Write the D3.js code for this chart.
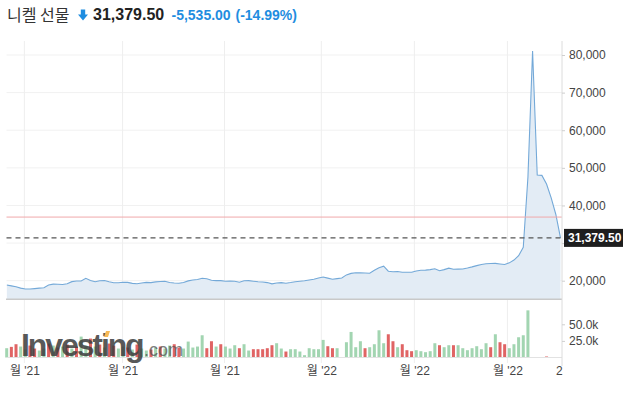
<!DOCTYPE html>
<html>
<head>
<meta charset="utf-8">
<script src="https://cdn.jsdelivr.net/npm/d3@7"></script>
<style>
	body { margin: 0; background: #fff; }
	svg text { font-family: "Liberation Sans", Arial, "Noto Sans CJK KR", sans-serif; }
</style>
</head>
<body>
<div id="chart"></div>
<script>
(function() {

	// closing prices, one per slot
	var price_values = [
		18860, 18630, 18370, 18030, 17790, 17790, 17900, 18030, 18120, 18850,
		19090, 19050, 18980, 19200, 19750, 19920, 19920, 20640, 20070, 19710,
		19980, 20040, 19700, 19470, 19470, 19600, 19550, 19300, 19200, 19380,
		19560, 19480, 19680, 19780, 19840, 19500, 19370, 19340, 19540, 19950,
		20170, 20320, 20640, 20530, 20110, 20020, 20010, 19840, 19890, 19850,
		19600, 20000, 20030, 19870, 19720, 19660, 19500, 19150, 19400, 19480,
		19330, 19510, 19740, 19870, 19990, 20200, 20400, 20700, 20980, 20680,
		20400, 20560, 20720, 21540, 21950, 22100, 22080, 22030, 21970, 22770,
		23470, 23870, 22520, 22360, 22450, 22230, 22230, 22230, 22600, 22780,
		22820, 22940, 23180, 22640, 22950, 23340, 23030, 23070, 23110, 23370,
		23670, 24010, 24310, 24500, 24570, 24610, 24450, 24300, 24740, 25490,
		26640, 28880, 47500, 81050, 48100, 48000, 45700, 42000, 37600, 31379.5
	];

	// volume in thousands, null = no bar
	var volume_values = [
		14, 16, 20, 16.5, 12, 18, 13.5, 10.5, 13.5, 21,
		18, 15, 16.5, 19.5, 13.5, 16.5, 31.5, 18, 28.5, 16.5,
		19.5, 15, 21, 18, 13.5, 16.5, 15, 12, 19.5, 13.5,
		10.5, 12, 15, 16.5, 13.5, 18, 20, 15, 13.5, 24,
		15, 16.5, 33.5, 14, 24.5, 16.5, 20, 16.5, 13.5, 18.5,
		14, 20, 10.5, 12.5, 12.5, 12.5, 14, 18.5, 21.5, 13.5,
		9, 12.5, 12.5, 9, 3.5, 14, 12.5, 12.5, 26.5, 17,
		14, 14, null, 23, 38.5, 15.5, 24.5, 14, 15.5, 20,
		41, 21.5, 35, 24.5, 15.5, 20, 11, 9.5, 11, 9.5,
		8, 9.5, 21.5, 18.5, 15.5, 18.5, 18.5, 18.5, 14, 11,
		14, 17, 12.5, 21.5, 15.5, 35, 23, 20, 14, 20,
		30.5, 33.5, 71, null, null, null, 1.5, null, null, null
	];

	// 1 = up day (green), 0 = down day (red)
	var volume_up = [
		1, 0, 0, 1, 1, 0, 0, 1, 1, 0,
		1, 0, 1, 0, 1, 0, 1, 1, 0, 1,
		0, 1, 0, 0, 1, 1, 0, 1, 0, 1,
		1, 0, 1, 0, 1, 1, 0, 0, 1, 1,
		1, 1, 1, 0, 0, 1, 0, 1, 1, 1,
		0, 1, 1, 0, 0, 0, 0, 0, 1, 1,
		0, 1, 1, 1, 1, 1, 1, 1, 1, 0,
		0, 1, 1, 1, 1, 1, 1, 0, 1, 1,
		1, 1, 0, 0, 1, 0, 0, 0, 1, 1,
		1, 1, 1, 0, 1, 1, 0, 1, 1, 1,
		1, 1, 1, 1, 0, 1, 0, 0, 1, 1,
		1, 1, 1, 1, 1, 1, 0, 1, 1, 1
	];

	var price_ticks = [20000, 30000, 40000, 50000, 60000, 70000, 80000];
	var volume_ticks = [25000, 50000];
	var x_tick_slots = [3.8, 24.9, 46.8, 67.6, 87.6, 107.6];
	var x_tick_labels = ["월 '21", "월 '21", "월 '21", "월 '22", "월 '22", "월 '22"];

	var instrument_name = "니켈 선물";
	var last_price = 31379.50;
	var prev_close = 36914.50;
	var price_change = -5535.00;
	var change_pct = -14.99;

	var WIDTH = 628, HEIGHT = 397;
	var PANE_LEFT = 6.5, PANE_RIGHT = 562;
	var PANE_TOP = 41, PANE_BOTTOM = 299.3;
	var VOL_BASE = 357.5, AXIS_BOTTOM = 363;

	var x = d3.scaleLinear()
		.domain([0, price_values.length - 1])
		.range([6.7, 560.5]);

	var y = d3.scaleLinear()
		.domain([20000, 80000])
		.range([280.7, 55]);

	var y_vol = d3.scaleLinear()
		.domain([0, 50000])
		.range([VOL_BASE, 324.3]);

	var svg = d3.select("#chart").append("svg")
		.attr("width", WIDTH)
		.attr("height", HEIGHT);

	// header
	var header = svg.append("g");
	header.append("text")
		.attr("x", 7)
		.attr("y", 21)
		.style("font-family", "'Noto Sans CJK KR', sans-serif")
		.style("font-size", "16px")
		.style("fill", "#333")
		.text(instrument_name);

	header.append("path")
		.attr("d", "M80.8,9.5 H85.2 V14.5 H88 L83,20.5 L78,14.5 H80.8 Z")
		.style("fill", "#1f8de0");

	header.append("text")
		.attr("x", 93)
		.attr("y", 20)
		.style("font-size", "16px")
		.style("font-weight", "bold")
		.style("fill", "#222")
		.text(d3.format(",.2f")(last_price));

	header.append("text")
		.attr("x", 171.5)
		.attr("y", 20)
		.style("font-size", "14px")
		.style("font-weight", "bold")
		.style("fill", "#1f8de0")
		.text(d3.format(",.2f")(price_change).replace("−", "-"));

	header.append("text")
		.attr("x", 235.5)
		.attr("y", 20)
		.style("font-size", "14px")
		.style("font-weight", "bold")
		.style("fill", "#1f8de0")
		.text("(" + d3.format(".2f")(change_pct).replace("−", "-") + "%)");

	// gridlines
	svg.append("g")
		.selectAll("line")
		.data(price_ticks)
		.enter()
		.append("line")
			.attr("x1", PANE_LEFT)
			.attr("x2", PANE_RIGHT)
			.attr("y1", d => y(d))
			.attr("y2", d => y(d))
			.style("stroke", "#f1f1f1");

	svg.append("g")
		.selectAll("line")
		.data(x_tick_slots)
		.enter()
		.append("line")
			.attr("x1", d => x(d))
			.attr("x2", d => x(d))
			.attr("y1", PANE_TOP)
			.attr("y2", AXIS_BOTTOM)
			.style("stroke", "#eeeeee");

	// price area + line
	svg.append("clipPath")
		.attr("id", "price_clip")
		.append("rect")
			.attr("x", PANE_LEFT)
			.attr("y", PANE_TOP)
			.attr("width", PANE_RIGHT - PANE_LEFT)
			.attr("height", PANE_BOTTOM - PANE_TOP);

	var price_g = svg.append("g").attr("clip-path", "url(#price_clip)");

	price_g.append("path")
		.datum(price_values)
		.attr("d", d3.area()
			.x((d, i) => x(i))
			.y0(PANE_BOTTOM)
			.y1(d => y(d)))
		.style("fill", "#e3ecf5");

	price_g.append("path")
		.datum(price_values)
		.attr("d", d3.line()
			.x((d, i) => x(i))
			.y(d => y(d)))
		.style("fill", "none")
		.style("stroke", "#74a9d8")
		.style("stroke-width", 1.1);

	// previous close + last price lines
	svg.append("line")
		.attr("x1", PANE_LEFT)
		.attr("x2", PANE_RIGHT)
		.attr("y1", y(prev_close))
		.attr("y2", y(prev_close))
		.style("stroke", "#f0a8aa");

	svg.append("line")
		.attr("x1", PANE_LEFT)
		.attr("x2", PANE_RIGHT)
		.attr("y1", y(last_price))
		.attr("y2", y(last_price))
		.style("stroke", "#555")
		.style("stroke-width", 1.2)
		.style("stroke-dasharray", "5,4");

	svg.append("line")
		.attr("x1", PANE_LEFT - 0.5)
		.attr("x2", PANE_RIGHT)
		.attr("y1", PANE_BOTTOM)
		.attr("y2", PANE_BOTTOM)
		.style("stroke", "#c9c9c9")
		.style("stroke-width", 1.5);

	// volume bars
	svg.append("g")
		.selectAll("rect")
		.data(volume_values.map((v, i) => ({i: i, v: v, up: volume_up[i]})).filter(d => d.v != null))
		.enter()
		.append("rect")
			.attr("x", d => x(d.i) - 1.5)
			.attr("width", 3)
			.attr("y", d => y_vol(d.v * 1000))
			.attr("height", d => VOL_BASE - y_vol(d.v * 1000))
			.style("fill", d => d.up ? "#a2d5b1" : "#e06464");

	svg.append("line")
		.attr("x1", PANE_LEFT)
		.attr("x2", PANE_RIGHT)
		.attr("y1", VOL_BASE)
		.attr("y2", VOL_BASE)
		.style("stroke", "#e2e2e2");

	// watermark
	var mark = svg.append("g");
	mark.append("text")
		.attr("x", 21)
		.attr("y", 356)
		.style("font-size", "32px")
		.style("font-weight", "bold")
		.style("letter-spacing", "-2.1px")
		.style("fill", "#3d3d3d")
		.style("opacity", 0.85)
		.text("Investing");
	mark.append("path")
		.attr("d", "M104,337 L106,331 L110,331 L108,337 Z")
		.style("fill", "#f7b955");
	mark.append("text")
		.attr("x", 144)
		.attr("y", 356)
		.style("font-size", "18px")
		.style("fill", "#555")
		.style("opacity", 0.75)
		.text(".com");

	// right border
	svg.append("line")
		.attr("x1", PANE_RIGHT)
		.attr("x2", PANE_RIGHT)
		.attr("y1", PANE_TOP)
		.attr("y2", AXIS_BOTTOM + 3)
		.style("stroke", "#dcdcdc");

	// axes (30,000 label sits under the last price badge)
	var price_axis = svg.append("g")
		.attr("transform", "translate(" + PANE_RIGHT + ",0)")
		.call(d3.axisRight(y)
			.tickValues(price_ticks)
			.tickSize(3)
			.tickPadding(4)
			.tickFormat(d => d === 30000 ? "" : d3.format(",")(d)));

	var vol_axis = svg.append("g")
		.attr("transform", "translate(" + PANE_RIGHT + ",0)")
		.call(d3.axisRight(y_vol)
			.tickValues(volume_ticks)
			.tickSize(3)
			.tickPadding(4)
			.tickFormat(d => (d / 1000).toFixed(1) + "k"));

	var time_axis = svg.append("g")
		.attr("transform", "translate(0," + (AXIS_BOTTOM + 1) + ")")
		.call(d3.axisBottom(x)
			.tickValues(x_tick_slots)
			.tickSize(0)
			.tickPadding(2)
			.tickFormat((d, i) => x_tick_labels[i]));

	[price_axis, vol_axis, time_axis].forEach(function(g) {
		g.select(".domain").remove();
		g.selectAll(".tick line").style("stroke", "#cfcfcf");
		g.selectAll(".tick text")
			.style("font-family", "'Liberation Sans', Arial, 'Noto Sans CJK KR', sans-serif")
			.style("font-size", "12px")
			.style("fill", "#444");
	});

	// cut-off label at the right edge
	svg.append("text")
		.attr("x", 556)
		.attr("y", 375)
		.style("font-size", "12px")
		.style("fill", "#444")
		.text("2");

	// last price badge
	var badge = svg.append("g")
		.attr("transform", "translate(564," + (y(last_price) - 9) + ")");
	badge.append("rect")
		.attr("width", 59)
		.attr("height", 18)
		.style("fill", "#1e1e1e");
	badge.append("text")
		.attr("x", 4)
		.attr("y", 13.5)
		.style("font-size", "12px")
		.style("font-weight", "bold")
		.style("fill", "#fff")
		.text(d3.format(",.2f")(last_price));

}) ();
</script>
</body>
</html>
